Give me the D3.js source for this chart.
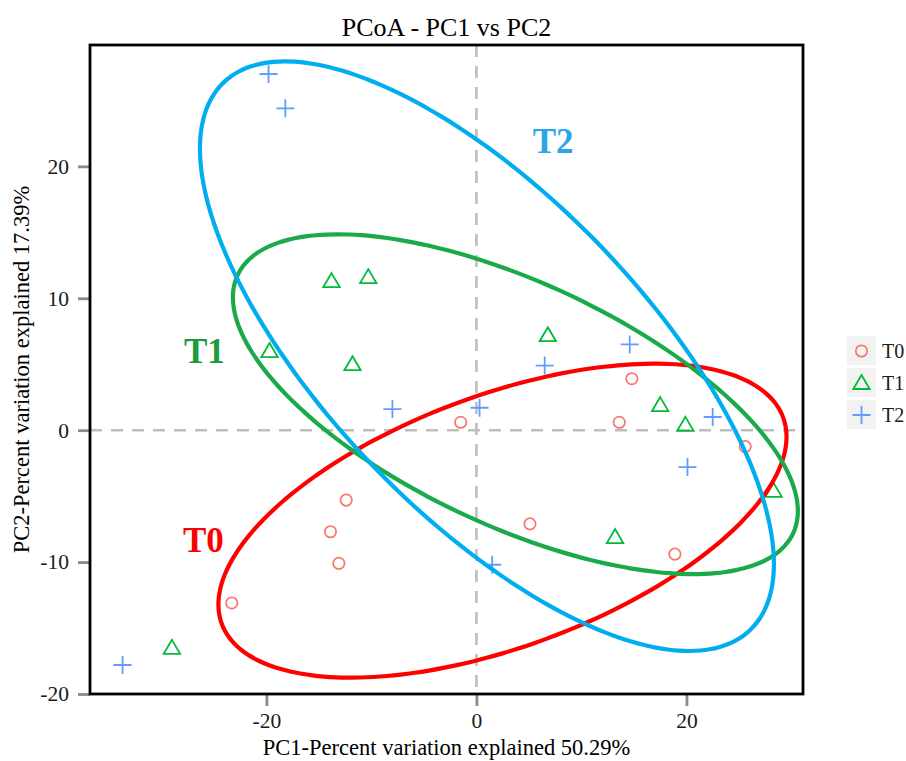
<!DOCTYPE html>
<html>
<head>
<meta charset="utf-8">
<script src="https://cdn.jsdelivr.net/npm/d3@7"></script>
<style>
  body { margin: 0; background: #fff; }
  text { font-family: "Liberation Serif", "Times New Roman", serif; }
</style>
</head>
<body>
<div id="chart"></div>
<script>
// groups
const groups = ["T0", "T1", "T2"];

// PC1 / PC2 scores
const t0X = [-23.3, -13.9, -13.1, -12.4, -1.5, 5.1, 13.6, 14.8, 25.6, 18.9];
const t0Y = [-13.1, -7.7, -10.1, -5.3, 0.6, -7.1, 0.6, 3.9, -1.25, -9.4];
const t1X = [-13.8, -10.3, -11.8, 6.8, 17.5, 19.9, 28.3, 13.2, -19.7, -29.0];
const t1Y = [11.3, 11.6, 5.0, 7.2, 1.9, 0.4, -4.6, -8.1, 6.0, -16.5];
const t2X = [-19.8, -18.2, -8.0, 0.3, 6.5, 1.5, 14.6, 22.5, 20.1, -33.7];
const t2Y = [27.0, 24.4, 1.6, 1.7, 4.9, -10.2, 6.5, 1.0, -2.8, -17.8];

// hand-drawn group ellipses (data units): centre, half width, half height, tilt (correlation)
const ellCx = [2.48, 3.71, 1.0];
const ellCy = [-6.86, 1.97, 5.61];
const ellHalfW = [27.05, 26.9, 27.33];
const ellHalfH = [11.9, 12.88, 22.35];
const ellRho = [0.534, -0.629, -0.704];

const xTicks = [-20, 0, 20];
const yTicks = [-20, -10, 0, 10, 20];
const xDomain = [-36.8, 31.1];
const yDomain = [-20, 29.2];

const pointColors = ["#F8766D", "#00BA38", "#619CFF"];
const ellipseColors = ["#FF0000", "#1AAA4A", "#00AEEF"];
const labelColors = ["#FF0000", "#1E9A3E", "#29A6E6"];
// where the big group labels sit (data units)
const labelX = [-26.0, -25.9, 7.3];
const labelY = [-9.2, 5.1, 21.0];

const W = 906, H = 761;
const pLeft = 90, pRight = 803, pTop = 45, pBottom = 694;

const svg = d3.select("#chart").append("svg")
  .attr("width", W).attr("height", H);

const x = d3.scaleLinear().domain(xDomain).range([pLeft, pRight]);
const y = d3.scaleLinear().domain(yDomain).range([pBottom, pTop]);

function ellipsePts(i) {
  const s = Math.sqrt(1 - ellRho[i] * ellRho[i]);
  return d3.range(0, 120).map(k => {
    const t = k / 120 * 2 * Math.PI;
    return [
      ellCx[i] + ellHalfW[i] * Math.cos(t),
      ellCy[i] + ellHalfH[i] * (ellRho[i] * Math.cos(t) + s * Math.sin(t))
    ];
  });
}

const data = [
  { g: "T0", xs: t0X, ys: t0Y },
  { g: "T1", xs: t1X, ys: t1Y },
  { g: "T2", xs: t2X, ys: t2Y }
];

svg.append("clipPath").attr("id", "clip")
  .append("rect")
  .attr("x", pLeft).attr("y", pTop)
  .attr("width", pRight - pLeft).attr("height", pBottom - pTop);

const plot = svg.append("g").attr("clip-path", "url(#clip)");

// zero reference lines
plot.append("line")
  .attr("x1", x(0)).attr("x2", x(0))
  .attr("y1", pTop).attr("y2", pBottom)
  .attr("stroke", "#BEBEBE").attr("stroke-width", 2.6)
  .attr("stroke-dasharray", "12 9");
plot.append("line")
  .attr("x1", pLeft).attr("x2", pRight)
  .attr("y1", y(0)).attr("y2", y(0))
  .attr("stroke", "#BEBEBE").attr("stroke-width", 2.6)
  .attr("stroke-dasharray", "12 9");

// point shapes: circle, triangle, plus
function drawShape(sel, i, cx, cy) {
  const col = pointColors[i];
  if (i === 0) {
    sel.append("circle").attr("cx", cx).attr("cy", cy).attr("r", 5.7)
      .attr("fill", "none").attr("stroke", col).attr("stroke-width", 1.7);
  } else if (i === 1) {
    sel.append("path")
      .attr("d", `M${cx},${cy - 8}L${cx + 8.2},${cy + 6}L${cx - 8.2},${cy + 6}Z`)
      .attr("fill", "none").attr("stroke", col).attr("stroke-width", 1.8);
  } else {
    sel.append("path")
      .attr("d", `M${cx - 9},${cy}H${cx + 9}M${cx},${cy - 9}V${cy + 9}`)
      .attr("fill", "none").attr("stroke", col).attr("stroke-width", 1.8);
  }
}

data.forEach((d, i) => {
  d.xs.forEach((v, k) => drawShape(plot, i, x(v), y(d.ys[k])));
});

// ellipses on top of points
const line = d3.line().x(d => x(d[0])).y(d => y(d[1])).curve(d3.curveCardinalClosed);
groups.forEach((g, i) => {
  plot.append("path")
    .datum(ellipsePts(i))
    .attr("fill", "none")
    .attr("stroke", ellipseColors[i])
    .attr("stroke-width", 4.2)
    .attr("d", line);
});

// group labels
groups.forEach((g, i) => {
  plot.append("text")
    .attr("x", x(labelX[i])).attr("y", y(labelY[i]))
    .attr("text-anchor", "middle")
    .attr("fill", labelColors[i])
    .style("font-size", "35px").style("font-weight", "bold")
    .text(g);
});

// axes
const xAxis = svg.append("g")
  .attr("transform", `translate(0,${pBottom})`)
  .call(d3.axisBottom(x).tickValues(xTicks).tickSize(12).tickPadding(7));
const yAxis = svg.append("g")
  .attr("transform", `translate(${pLeft},0)`)
  .call(d3.axisLeft(y).tickValues(yTicks).tickSize(12).tickPadding(9));
[xAxis, yAxis].forEach(ax => {
  ax.select(".domain").remove();
  ax.selectAll(".tick line").attr("stroke", "#8a8a8a").attr("stroke-width", 2.8);
  ax.selectAll(".tick text")
    .attr("fill", "#1a1a1a")
    .style("font-family", "'Liberation Serif', serif")
    .style("font-size", "21.5px")
    .text(d => String(d));
});

// frame
svg.append("rect")
  .attr("x", pLeft).attr("y", pTop)
  .attr("width", pRight - pLeft).attr("height", pBottom - pTop)
  .attr("fill", "none").attr("stroke", "#000").attr("stroke-width", 2.8);

// titles
svg.append("text")
  .attr("x", (pLeft + pRight) / 2).attr("y", 36)
  .attr("text-anchor", "middle")
  .style("font-size", "26px")
  .text("PCoA - PC1 vs PC2");

svg.append("text")
  .attr("x", (pLeft + pRight) / 2).attr("y", 755)
  .attr("text-anchor", "middle")
  .style("font-size", "22.5px")
  .text("PC1-Percent variation explained 50.29%");

svg.append("text")
  .attr("transform", `translate(29,${(pTop + pBottom) / 2}) rotate(-90)`)
  .attr("text-anchor", "middle")
  .style("font-size", "22.5px")
  .text("PC2-Percent variation explained 17.39%");

// legend
const legend = svg.append("g").attr("transform", "translate(847,336)");
groups.forEach((g, i) => {
  const row = legend.append("g").attr("transform", `translate(0,${i * 32})`);
  row.append("rect").attr("width", 29).attr("height", 29).attr("fill", "#F2F2F2");
  drawShape(row, i, 14.5, 15);
  row.append("text").attr("x", 35).attr("y", 22)
    .style("font-size", "20px").attr("fill", "#1a1a1a").text(g);
});
</script>
</body>
</html>
